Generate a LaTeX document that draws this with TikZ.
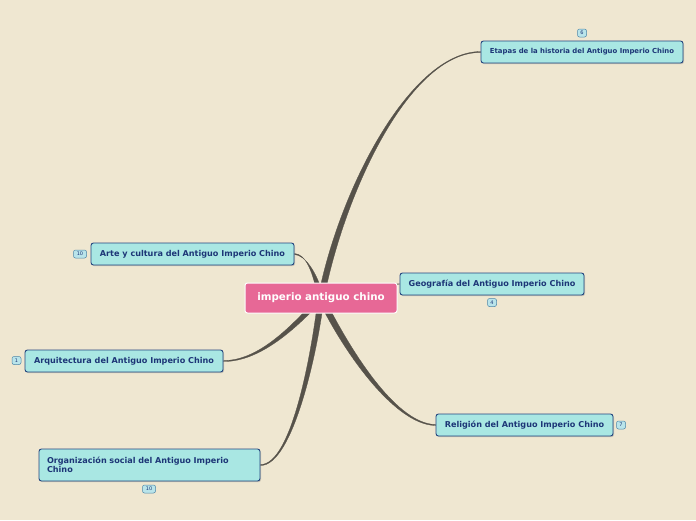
\documentclass[tikz,border=0pt]{standalone}
\usepackage{fontspec}
\setmainfont{DejaVu Sans}
\usetikzlibrary{calc,shadows}
\definecolor{bgc}{HTML}{EFE7D1}
\definecolor{nodefill}{HTML}{A9E7E3}
\definecolor{nodeline}{HTML}{23457F}
\definecolor{nodetext}{HTML}{1D3677}
\definecolor{pinkc}{HTML}{E76896}
\definecolor{connc}{HTML}{56524A}
\definecolor{badgefill}{HTML}{B9E4EA}
\definecolor{badgeline}{HTML}{4C86A8}
\pgfdeclarelayer{bg}
\pgfdeclarelayer{edges}
\pgfsetlayers{bg,edges,main}
\tikzset{
  topic/.style={draw=nodeline, line width=0.9pt, fill=nodefill, rounded corners=2.5pt,
    text=nodetext, font=\bfseries\fontsize{8.1}{9.5}\selectfont, inner sep=2pt,
    drop shadow={shadow xshift=1pt, shadow yshift=-1.2pt, opacity=0.35}},
  central/.style={draw=white, line width=1pt, fill=pinkc, rounded corners=2.5pt,
    text=white, font=\bfseries\fontsize{10.3}{12}\selectfont, minimum width=152pt, minimum height=30pt},
  badge/.style={draw=badgeline, line width=0.5pt, fill=badgefill, rounded corners=2pt,
    text=nodetext, font=\fontsize{5}{6}\selectfont, inner sep=0pt, minimum height=8pt, minimum width=9pt},
  conn/.style={fill=connc, draw=connc, line width=0.3pt},
  thinconn/.style={draw=connc, line width=0.9pt}
}
\begin{document}
\begin{tikzpicture}[x=1pt,y=-1pt]
\begin{pgfonlayer}{bg}
\fill[bgc] (0,0) rectangle (696,520);
\end{pgfonlayer}
\useasboundingbox (0,0) rectangle (696,520);

\node[central] (c) at (321,298) {imperio antiguo chino};

\node[topic, minimum width=202pt, minimum height=22pt, font=\bfseries\fontsize{6.9}{8}\selectfont] (etapas) at (582,52) {Etapas de la historia del Antiguo Imperio Chino};
\node[topic, minimum width=203pt, minimum height=22pt] (arte) at (192.5,254) {Arte y cultura del Antiguo Imperio Chino};
\node[topic, minimum width=198pt, minimum height=22pt] (arq) at (124,361) {Arquitectura del Antiguo Imperio Chino};
\node[topic, minimum width=221pt, minimum height=32pt, text width=205pt, align=left] (org) at (149.5,465) {Organización social del Antiguo Imperio\\Chino};
\node[topic, minimum width=184pt, minimum height=22pt] (geo) at (492,284) {Geografía del Antiguo Imperio Chino};
\node[topic, minimum width=177pt, minimum height=22pt] (rel) at (524.5,425) {Religión del Antiguo Imperio Chino};

\node[badge] (betapas) at (582,33) {6};
\node[badge, minimum width=13pt] (barte) at (80,254) {10};
\node[badge] (barq) at (16.5,360.5) {1};
\node[badge, minimum width=13pt] (borg) at (149,489) {10};
\node[badge] (bgeo) at (492,302.5) {4};
\node[badge] (brel) at (621,425) {7};

\begin{pgfonlayer}{edges}
% Etapas
\fill[conn] ($(c.center)+(-2.9,-0.6)$) .. controls (339,190) and (410,52) .. ($(etapas.west)+(0,-0.5)$)
  -- ($(etapas.west)+(0,0.5)$) .. controls (410,52) and (345,191) .. ($(c.center)+(2.9,0.6)$) -- cycle;
% Arte
\fill[conn] ($(c.center)+(-2.9,0.6)$) .. controls (313,272) and (306,254) .. ($(arte.east)+(0,-0.5)$)
  -- ($(arte.east)+(0,0.5)$) .. controls (305,255) and (317,272) .. ($(c.center)+(2.9,-0.6)$) -- cycle;
% Arquitectura
\fill[conn] ($(c.center)+(-1.8,-1.8)$) .. controls (298,318) and (262,361) .. ($(arq.east)+(0,-0.5)$)
  -- ($(arq.east)+(0,0.5)$) .. controls (263,362) and (302,322) .. ($(c.center)+(1.8,1.8)$) -- cycle;
% Organizacion
\fill[conn] ($(c.center)+(-3,0)$) .. controls (312,350) and (292,465) .. ($(org.east)+(0,-0.5)$)
  -- ($(org.east)+(0,0.5)$) .. controls (293,466) and (318,350) .. ($(c.center)+(3,0)$) -- cycle;
% Religion
\fill[conn] ($(c.center)+(-2.7,1.2)$) .. controls (338,342) and (392,425) .. ($(rel.west)+(0,0.5)$)
  -- ($(rel.west)+(0,-0.5)$) .. controls (393,424) and (344,338) .. ($(c.center)+(2.7,-1.2)$) -- cycle;
% Geografia
\draw[thinconn] (c.center) .. controls (360,296) and (380,284) .. (geo.west);
\end{pgfonlayer}
\end{tikzpicture}
\end{document}
